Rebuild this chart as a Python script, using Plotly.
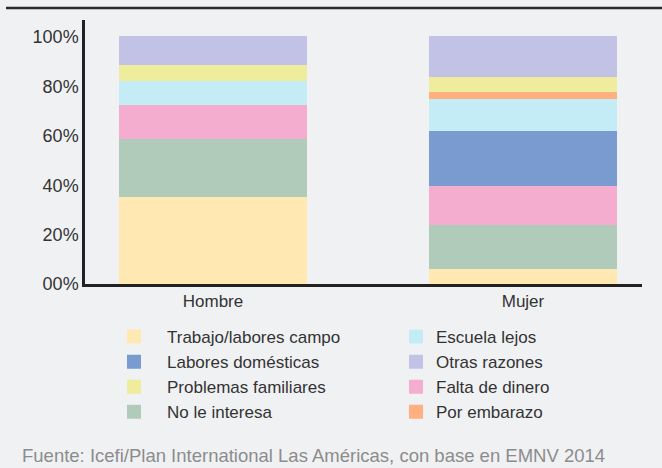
import plotly.graph_objects as go

categories = ["Hombre", "Mujer"]

# stacking order bottom -> top
series_names = [
    "Trabajo/labores campo",
    "No le interesa",
    "Falta de dinero",
    "Labores domésticas",
    "Escuela lejos",
    "Por embarazo",
    "Problemas familiares",
    "Otras razones",
]
trabajo = [35.5, 6.6]
no_interesa = [23.8, 17.8]
falta_dinero = [13.4, 15.8]
labores_dom = [0.0, 22.3]
escuela_lejos = [10.1, 13.0]
embarazo = [0.0, 2.8]
problemas = [6.1, 6.1]
otras = [11.1, 15.6]

series_values = [trabajo, no_interesa, falta_dinero, labores_dom,
                 escuela_lejos, embarazo, problemas, otras]
colors = ["#FFE8B2", "#B1CBBB", "#F4ACCF", "#7A9BD0",
          "#C3ECF6", "#FFAF80", "#F0EC9E", "#C2C2E6"]
# which legend column and rank each series goes to
legend_col = ["legend", "legend", "legend2", "legend", "legend2", "legend2", "legend", "legend2"]
legend_rank = [1, 4, 3, 2, 1, 4, 3, 2]

tick_vals = [0, 20, 40, 60, 80, 100]
tick_text = ["00%", "20%", "40%", "60%", "80%", "100%"]

source = "Fuente: Icefi/Plan International Las Américas, con base en EMNV 2014"

W, H = 662, 468
L, R, T, B = 85, 20, 20, 184
pw, ph = W - L - R, H - T - B
BG = "#F0F1F3"
FONT = "Liberation Sans, Arial, sans-serif"


def px_x(q):
    return (q - L) / pw


def px_y(p):
    return (H - B - p) / ph


fig = go.Figure()
for name, vals, col, lg, rk in zip(series_names, series_values, colors, legend_col, legend_rank):
    fig.add_trace(go.Bar(
        x=categories, y=vals, name=name,
        marker=dict(color=col, line=dict(width=2, color=col)),
        legend=lg, legendrank=rk,
        hoverinfo="skip",
    ))

legend_font = dict(family=FONT, size=17, color="#333333")

fig.update_layout(
    width=W, height=H,
    margin=dict(l=L, r=R, t=T, b=B),
    paper_bgcolor=BG,
    plot_bgcolor=BG,
    barmode="stack",
    bargap=0.4,
    font=dict(family=FONT, size=17, color="#333333"),
    xaxis=dict(
        range=[-0.413, 1.384],
        showline=True, linecolor="#222222", linewidth=3,
        showgrid=False, zeroline=False, ticks="",
        tickfont=dict(size=17),
        fixedrange=True,
    ),
    yaxis=dict(
        range=[0, 106.9],
        tickvals=tick_vals, ticktext=tick_text,
        showline=True, linecolor="#222222", linewidth=2.5,
        showgrid=False, zeroline=False, ticks="",
        ticklabelstandoff=0,
        tickfont=dict(size=18),
        fixedrange=True,
    ),
    legend=dict(
        x=px_x(101), y=px_y(319), xanchor="left", yanchor="top",
        orientation="v", itemwidth=56, font=legend_font,
        bgcolor="rgba(0,0,0,0)", tracegroupgap=0, traceorder="normal",
        itemclick=False, itemdoubleclick=False,
    ),
    legend2=dict(
        x=px_x(396), y=px_y(319), xanchor="left", yanchor="top",
        orientation="v", itemwidth=30, font=legend_font,
        bgcolor="rgba(0,0,0,0)", tracegroupgap=0, traceorder="normal",
        itemclick=False, itemdoubleclick=False,
    ),
    showlegend=True,
    shapes=[
        dict(type="line", xref="paper", yref="paper", layer="above",
             x0=px_x(6), x1=px_x(662), y0=px_y(8), y1=px_y(8),
             line=dict(color="#2B2B2B", width=2.5)),
    ],
    annotations=[
        dict(text=source, xref="paper", yref="paper",
             x=px_x(20), y=px_y(455), xanchor="left", yanchor="middle",
             showarrow=False,
             font=dict(family=FONT, size=18.5, color="#8C8C8C")),
    ],
)

fig.write_html(
    "out.html",
    config={"displayModeBar": False},
    post_script="document.body.style.margin='0';document.body.style.background='" + BG + "';",
)
